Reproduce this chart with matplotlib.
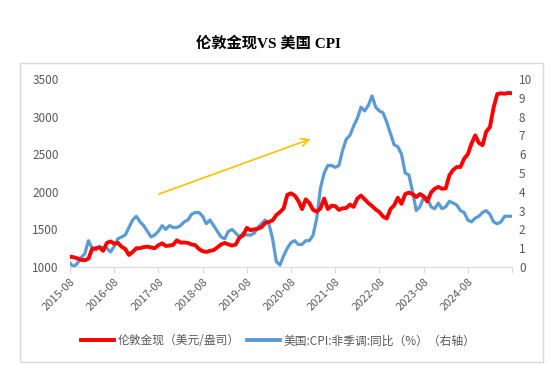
import matplotlib
matplotlib.use("Agg")
import matplotlib.pyplot as plt
from matplotlib.patches import Rectangle
import numpy as np
import pandas as pd

plt.rcParams['font.family'] = ['Noto Sans CJK SC', 'DejaVu Sans']

title = "伦敦金现VS 美国 CPI"
gold_label = "伦敦金现（美元/盎司）"
cpi_label = "美国:CPI:非季调:同比（%）（右轴）"

months = pd.period_range("2015-08", "2025-08", freq="M")

gold = [
    1137, 1130, 1115, 1095, 1090,
    1110, 1240, 1250, 1260, 1215, 1320, 1340, 1310, 1320, 1270, 1240, 1160,
    1200, 1250, 1250, 1265, 1270, 1260, 1250, 1290, 1315, 1280, 1285, 1295,
    1355, 1325, 1325, 1320, 1300, 1290, 1240, 1210, 1200, 1215, 1225, 1260,
    1300, 1320, 1300, 1285, 1300, 1390, 1420, 1520, 1490, 1500, 1510, 1530,
    1585, 1600, 1620, 1690, 1730, 1780, 1960, 1980, 1950, 1880, 1770, 1900,
    1850, 1760, 1735, 1780, 1910, 1770, 1815, 1810, 1760, 1780, 1785, 1830,
    1800, 1910, 1950, 1900, 1850, 1810, 1765, 1730, 1670, 1645, 1770, 1820,
    1920, 1840, 1970, 1990, 1970, 1930, 1970, 1940, 1870, 1990, 2040, 2065,
    2040, 2045, 2220, 2290, 2330, 2330, 2440, 2500, 2640, 2750, 2650, 2620,
    2800, 2860, 3120, 3300, 3310, 3305, 3315, 3310,
]

cpi = [
    0.2, 0.0, 0.2, 0.5, 0.7,
    1.4, 1.0, 0.9, 1.1, 1.0, 1.0, 0.8, 1.1, 1.5, 1.6, 1.7, 2.1,
    2.5, 2.7, 2.4, 2.2, 1.9, 1.6, 1.7, 1.9, 2.2, 2.0, 2.2, 2.1,
    2.1, 2.2, 2.4, 2.5, 2.8, 2.9, 2.9, 2.7, 2.3, 2.5, 2.2, 1.9,
    1.6, 1.5, 1.9, 2.0, 1.8, 1.6, 1.8, 1.7, 1.7, 1.8, 2.1, 2.3,
    2.5, 2.3, 1.5, 0.3, 0.1, 0.6, 1.0, 1.3, 1.4, 1.2, 1.2, 1.4,
    1.4, 1.7, 2.6, 4.2, 5.0, 5.4, 5.4, 5.3, 5.4, 6.2, 6.8, 7.0,
    7.5, 7.9, 8.5, 8.3, 8.6, 9.1, 8.5, 8.3, 8.2, 7.7, 7.1, 6.5,
    6.4, 6.0, 5.0, 4.9, 4.0, 3.0, 3.2, 3.7, 3.7, 3.2, 3.1, 3.4,
    3.1, 3.2, 3.5, 3.4, 3.3, 3.0, 2.9, 2.5, 2.4, 2.6, 2.7, 2.9,
    3.0, 2.8, 2.4, 2.3, 2.4, 2.7, 2.7, 2.7,
]

left_ticks = [1000, 1500, 2000, 2500, 3000, 3500]
right_ticks = list(range(0, 11))
xtick_labels = [f"{y}-08" for y in range(2015, 2025)]

# arrow annotation endpoints (month index, left-axis value)
arrow_start = (23.4, 1957)
arrow_end = (66.0, 2715)

W, H = 550, 365
fig = plt.figure(figsize=(W / 100, H / 100), dpi=100)

# outer frame
fig.patches.append(Rectangle((20 / W, 1 - 362 / H), 523 / W, 299 / H,
                             transform=fig.transFigure, fill=False,
                             edgecolor="#D9D9D9", linewidth=1.0))

ax = fig.add_axes([70 / W, 1 - 267 / H, 442 / W, 188 / H])
ax2 = ax.twinx()

x = np.arange(len(months))
tick_col = "#595959"

ax.plot(x, gold, color="#FF0000", lw=2.8, solid_joinstyle="round", zorder=3)
ax2.plot(x, cpi, color="#5B9BD5", lw=2.3, solid_joinstyle="round", zorder=2)
ax.set_zorder(ax2.get_zorder() + 1)
ax.patch.set_visible(False)

ax.set_xlim(0, 120)
ax.set_ylim(1000, 3500)
ax2.set_ylim(0, 10)
ax.set_yticks(left_ticks)
ax2.set_yticks(right_ticks)

ax.set_xticks(np.arange(0, 121, 12))
ax.set_xticklabels(xtick_labels + [""], rotation=45, ha="right",
                   rotation_mode="anchor", fontsize=8, color=tick_col)

for a in (ax, ax2):
    for s in ("top", "left", "right"):
        a.spines[s].set_visible(False)
    a.spines["bottom"].set_color("#D9D9D9")
ax2.spines["bottom"].set_visible(False)

ax.tick_params(axis="x", length=4, color="#D9D9D9", pad=3)
ax.tick_params(axis="y", length=0, pad=8, labelsize=8.5, labelcolor=tick_col)
ax2.tick_params(axis="y", length=0, pad=5, labelsize=8.5, labelcolor=tick_col)

ax.annotate("", xy=arrow_end, xytext=arrow_start,
            arrowprops=dict(arrowstyle="->", color="#FFC000", lw=1.2,
                            mutation_scale=14))

fig.text(268 / W, 1 - 43 / H, title, ha="center", va="center",
         fontsize=11, fontweight="bold", color="#000000",
         family=['Liberation Serif', 'Noto Sans CJK SC'])

h1, = ax.plot([], [], color="#FF0000", lw=2.8)
h2, = ax.plot([], [], color="#5B9BD5", lw=2.8)
fig.legend([h1, h2], [gold_label, cpi_label], loc="center",
           bbox_to_anchor=(278 / W, 1 - 341 / H), ncol=2, frameon=False,
           fontsize=8.5, handlelength=2.8, handletextpad=0.3,
           columnspacing=0.6, labelcolor=tick_col)

fig.savefig("out.png", dpi=100)
